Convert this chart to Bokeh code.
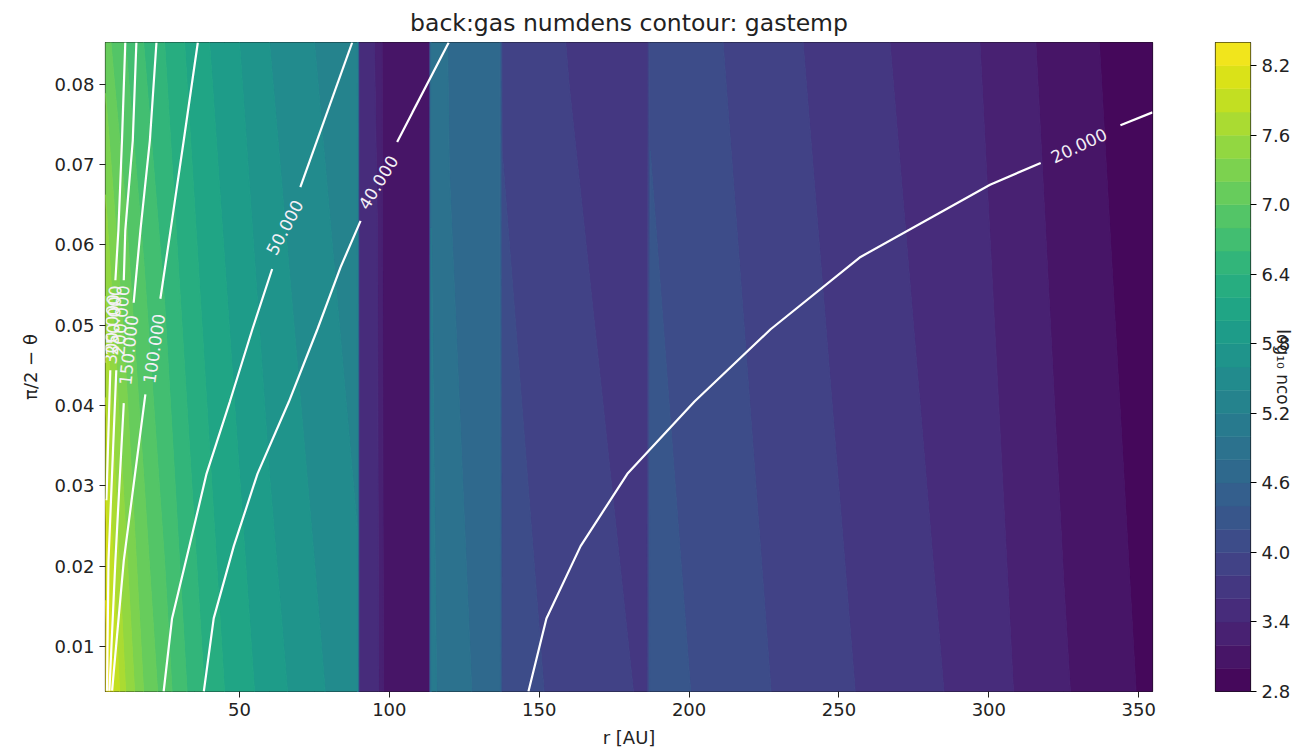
import numpy as np
from bokeh.plotting import figure
from bokeh.plotting.contour import contour_data
from bokeh.layouts import row
from bokeh.models import FixedTicker, LinearAxis, Range1d, PrintfTickFormatter
from bokeh.palettes import Viridis256
from bokeh.embed import file_html
from bokeh.resources import INLINE
from bokeh.core.properties import value

# ---------------- data ----------------
# log10 n_CO on a coarse (r, theta) grid: bottom row and top row
r_nodes = [5.3, 8.0, 12.0, 18.0, 25.0, 35.0, 45.0, 60.0, 75.0, 89.3, 89.9, 96.0, 98.0,
           113.3, 114.0, 120.0, 136.8, 137.6, 160.0, 186.0, 187.0, 214.0, 238.0,
           267.0, 297.0, 325.0, 354.6]
theta_nodes = [0.0044, 0.0852]
logn_mid = [8.38, 8.0, 7.6, 7.2, 6.9, 6.5, 6.2, 5.9, 5.65, 5.45, 3.55, 3.45, 3.2,
            3.1, 5.05, 4.88, 4.7, 4.1, 3.94, 3.77, 4.3, 4.1, 3.92, 3.72, 3.52, 3.22, 2.95]
logn_top = [7.1, 6.95, 6.8, 6.6, 6.4, 6.1, 5.9, 5.6, 5.4, 5.25, 3.5, 3.38, 3.15,
            3.05, 4.98, 4.78, 4.62, 3.98, 3.79, 3.62, 4.18, 3.98, 3.8, 3.6, 3.4, 3.1, 2.85]
levels = [2.8, 3.0, 3.2, 3.4, 3.6, 3.8, 4.0, 4.2, 4.4, 4.6, 4.8, 5.0, 5.2, 5.4, 5.6,
          5.8, 6.0, 6.2, 6.4, 6.6, 6.8, 7.0, 7.2, 7.4, 7.6, 7.8, 8.0, 8.2, 8.4]
cbar_ticks = [2.8, 3.4, 4.0, 4.6, 5.2, 5.8, 6.4, 7.0, 7.6, 8.2]
x_ticks = [50, 100, 150, 200, 250, 300, 350]
y_ticks = [0.01, 0.02, 0.03, 0.04, 0.05, 0.06, 0.07, 0.08]

# gas temperature contour lines (segments split where the labels sit)
T20_a_r = [146.4, 152.4, 163.8, 179.4, 201.8, 227.2, 257.2, 300.4, 317.3]
T20_a_t = [0.0044, 0.0135, 0.0225, 0.0315, 0.0405, 0.0495, 0.0585, 0.0675, 0.0702]
T20_b_r = [343.9, 354.6]
T20_b_t = [0.0749, 0.0765]

T40_a_r = [38.1, 41.4, 48.1, 56.0, 66.5, 76.0, 83.7, 90.4]
T40_a_t = [0.0044, 0.0135, 0.0225, 0.0315, 0.0405, 0.0495, 0.0572, 0.0630]
T40_b_r = [102.6, 107.7, 119.8]
T40_b_t = [0.0728, 0.0765, 0.0852]

T50_a_r = [24.7, 27.5, 33.3, 39.0, 46.8, 54.3, 60.9]
T50_a_t = [0.0044, 0.0135, 0.0225, 0.0315, 0.0405, 0.0495, 0.0570]
T50_b_r = [70.3, 87.6]
T50_b_t = [0.0672, 0.0852]

T100_a_r = [7.5, 11.4, 18.6]
T100_a_t = [0.0045, 0.0207, 0.0414]
T100_b_r = [23.6, 27.0, 31.4, 36.1]
T100_b_t = [0.0533, 0.0618, 0.0730, 0.0852]

T150_a_r = [6.6, 8.6, 11.4]
T150_a_t = [0.0045, 0.0207, 0.0403]
T150_b_r = [14.7, 16.95, 20.1, 22.3]
T150_b_t = [0.0528, 0.0618, 0.0730, 0.0852]

T200_a_r = [5.8, 6.3, 8.9]
T200_a_t = [0.0045, 0.0207, 0.0444]
T200_b_r = [11.4, 11.9, 14.4, 15.6]
T200_b_t = [0.0556, 0.0618, 0.0730, 0.0852]

T250_a_r = [5.6, 6.9]
T250_a_t = [0.0282, 0.0444]
T250_b_r = [8.6, 9.6, 10.8, 11.9]
T250_b_t = [0.0556, 0.0618, 0.0730, 0.0852]

label_text = ["20.000", "40.000", "50.000", "100.000", "150.000", "200.000", "250.000", "300.000"]
label_r = [330.0, 96.2, 65.0, 21.4, 12.9, 10.3, 7.9, 7.3]
label_t = [0.0724, 0.0678, 0.0622, 0.0471, 0.0469, 0.0506, 0.0506, 0.0495]
label_ang = [0.44, 1.02, 1.08, 1.426, 1.47, 1.50, 1.52, 1.53]

TITLE = "back:gas numdens contour: gastemp"

# ---------------- styling ----------------
FONT = "DejaVu Sans"
TXT = "#222222"
band_colors = [Viridis256[int(round((i + 0.5) / (len(levels) - 1) * 255))]
               for i in range(len(levels) - 1)]

FW, FH = 1047, 649
p = figure(frame_width=FW, frame_height=FH,
           x_range=Range1d(5.3, 354.6), y_range=Range1d(0.0044, 0.0852),
           min_border_left=105, min_border_right=8, min_border_top=42,
           min_border_bottom=59, toolbar_location=None, output_backend="svg",
           title=TITLE)
p.title.text_font = FONT
p.title.text_font_size = "23.5px"
p.title.text_font_style = "normal"
p.title.text_color = TXT
p.title.align = "center"
p.title.text_line_height = 0.75
p.title.standoff = 12

# filled contour bands (contourpy via bokeh), outlined in their own colour
cd = contour_data(x=np.array(r_nodes), y=np.array(theta_nodes),
                  z=np.array([logn_mid, logn_top]), levels=levels,
                  want_fill=True, want_line=False)
fd = cd.fill_data
p.multi_polygons(xs=fd.xs, ys=fd.ys, fill_color=band_colors[:len(fd.xs)],
                 line_color=band_colors[:len(fd.xs)], line_width=1.0)

line_sets = [(T20_a_r, T20_a_t), (T20_b_r, T20_b_t), (T40_a_r, T40_a_t), (T40_b_r, T40_b_t),
             (T50_a_r, T50_a_t), (T50_b_r, T50_b_t), (T100_a_r, T100_a_t), (T100_b_r, T100_b_t),
             (T150_a_r, T150_a_t), (T150_b_r, T150_b_t), (T200_a_r, T200_a_t),
             (T200_b_r, T200_b_t), (T250_a_r, T250_a_t), (T250_b_r, T250_b_t)]
for xs, ys in line_sets:
    p.line(xs, ys, line_color="white", line_width=2.2)

p.text(x=label_r, y=label_t, text=label_text, angle=label_ang,
       text_color="#f4f0f6", text_font=value(FONT), text_font_size="17px",
       text_align="center", text_baseline="middle")

p.grid.visible = False
p.outline_line_color = "#111111"
p.outline_line_width = 1.2
for ax in (p.xaxis[0], p.yaxis[0]):
    ax.major_label_text_font = FONT
    ax.major_label_text_font_size = "18px"
    ax.major_label_text_color = TXT
    ax.axis_label_text_font = FONT
    ax.axis_label_text_font_size = "18px"
    ax.axis_label_text_font_style = "normal"
    ax.axis_label_text_color = TXT
    ax.major_tick_out = 6
    ax.major_tick_in = 0
    ax.minor_tick_out = 0
    ax.minor_tick_in = 0
    ax.axis_line_color = None
    ax.major_tick_line_color = "#222222"
p.xaxis.ticker = FixedTicker(ticks=x_ticks)
p.yaxis.ticker = FixedTicker(ticks=y_ticks)
p.xaxis.axis_label = "r [AU]"
p.yaxis.axis_label = "π/2 − θ"
p.xaxis.axis_label_standoff = 8
p.yaxis.axis_label_standoff = 10

# ---------------- colour bar ----------------
cb = figure(frame_width=35, frame_height=FH, x_range=Range1d(0, 1),
            y_range=Range1d(levels[0], levels[-1]),
            min_border_left=55, min_border_right=0, min_border_top=42,
            min_border_bottom=59, toolbar_location=None, output_backend="svg")
cb.quad(left=0, right=1, bottom=levels[:-1], top=levels[1:], fill_color=band_colors,
        line_color=band_colors, line_width=0.5)
cb.xaxis.visible = False
cb.yaxis.visible = False
cb.grid.visible = False
cb.outline_line_color = "#111111"
cb.outline_line_width = 1.2
cax = LinearAxis(ticker=FixedTicker(ticks=cbar_ticks), axis_label="log₁₀ nᴄᴏ",
                 formatter=PrintfTickFormatter(format="%.1f"))
cax.major_label_text_font = FONT
cax.major_label_text_font_size = "18px"
cax.major_label_text_color = TXT
cax.axis_label_text_font = FONT
cax.axis_label_text_font_size = "17px"
cax.axis_label_text_font_style = "normal"
cax.axis_label_text_color = TXT
cax.axis_label_standoff = -20
cax.major_tick_out = 6
cax.major_tick_in = 0
cax.minor_tick_out = 0
cax.minor_tick_in = 0
cax.axis_line_color = None
cb.add_layout(cax, "right")

layout = row(p, cb)
open("out.html", "w").write(file_html(layout, INLINE))
